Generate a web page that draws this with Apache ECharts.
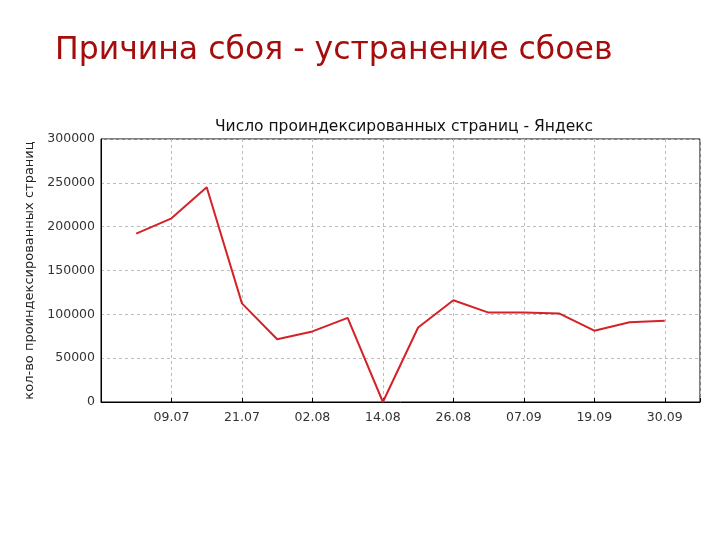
<!DOCTYPE html>
<html>
<head>
<meta charset="utf-8">
<script src="https://cdn.jsdelivr.net/npm/echarts@6/dist/echarts.min.js"></script>
<style>
  html, body { margin: 0; padding: 0; background: #fff; }
  #main { width: 720px; height: 540px; }
</style>
</head>
<body>
<div id="main"></div>
<script>
// дни от 09.07
var days = [-6, 0, 6, 12, 18, 24, 30, 36, 42, 48, 54, 60, 66, 72, 78, 84]
var pages = [192000, 209500, 245000, 112500, 71500, 80500, 96000, 0, 85000, 116000, 102000, 102000, 101000, 81300, 91000, 92700]
var tickDays = [0, 12, 24, 36, 48, 60, 72, 84]
var tickLabels = ['09.07', '21.07', '02.08', '14.08', '26.08', '07.09', '19.09', '30.09']

var seriesData = []
for (var i = 0; i < days.length; i++) {
  seriesData.push([days[i], pages[i]])
}

var myChart = echarts.init(document.getElementById('main'))
var font = 'DejaVu Sans'
var option = {
  animation: false,
  backgroundColor: '#fff',
  title: [
    {
      text: 'Причина сбоя - устранение сбоев',
      left: 50, top: 30,
      textStyle: { color: '#a50d0d', fontSize: 31.5, fontWeight: 'normal', fontFamily: font }
    },
    {
      text: 'Число проиндексированных страниц - Яндекс',
      left: 399, top: 114, textAlign: 'center',
      textStyle: { color: '#111', fontSize: 15.5, fontWeight: 'normal', fontFamily: font }
    }
  ],
  grid: { left: 101, top: 139, width: 599, height: 263, show: true, borderColor: '#000', borderWidth: 1 },
  xAxis: {
    type: 'value',
    min: -12, max: 90, interval: 12,
    axisLine: { show: true, lineStyle: { color: '#000' } },
    axisTick: { show: true, inside: true, length: 4, lineStyle: { color: '#000' } },
    axisLabel: {
      color: '#333', fontSize: 12.5, fontFamily: font, margin: 9,
      formatter: function(v) {
        var k = tickDays.indexOf(v)
        return k >= 0 ? tickLabels[k] : ''
      }
    },
    splitLine: { show: true, lineStyle: { color: '#bcbcbc', type: [3, 3] } }
  },
  yAxis: {
    type: 'value',
    min: 0, max: 300000, interval: 50000,
    name: 'кол-во проиндексированных страниц',
    nameLocation: 'middle', nameGap: 57, nameRotate: 90,
    nameTextStyle: { color: '#222', fontSize: 13, fontFamily: font },
    axisLine: { show: true, onZero: false, lineStyle: { color: '#000' } },
    axisTick: { show: false },
    axisLabel: {
      color: '#333', fontSize: 12.5, fontFamily: font, margin: 6,
      formatter: function(v) { return String(v) }
    },
    splitLine: { show: true, lineStyle: { color: '#bcbcbc', type: [3, 3] } }
  },
  series: [
    {
      type: 'line',
      data: seriesData,
      showSymbol: false,
      lineStyle: { color: '#d42228', width: 2 }
    }
  ]
}
myChart.setOption(option)
</script>
</body>
</html>
